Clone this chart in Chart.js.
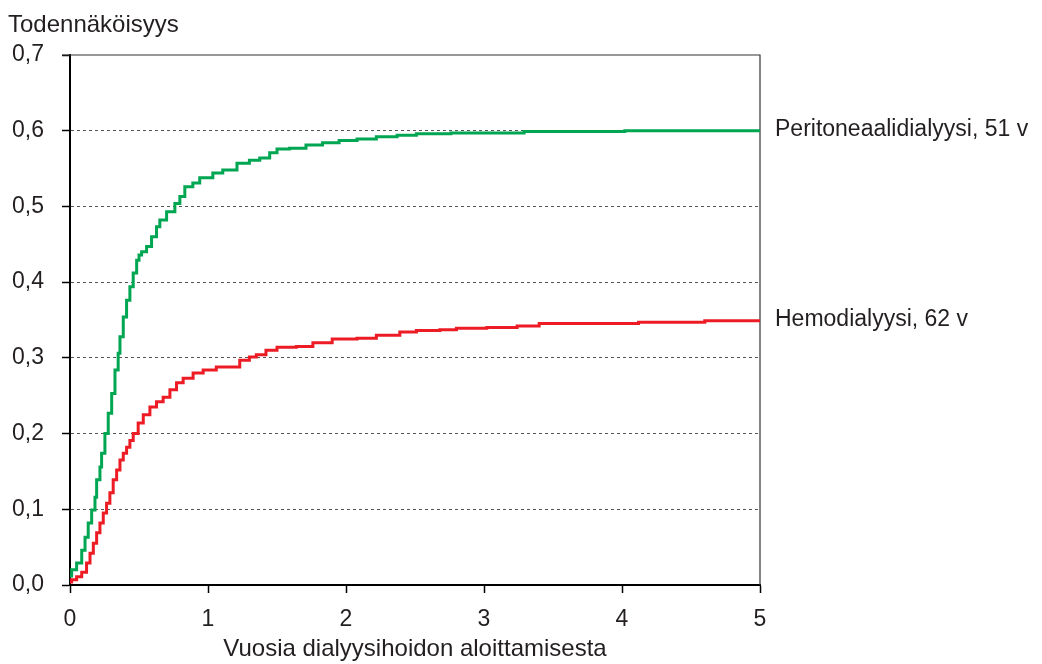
<!DOCTYPE html>
<html lang="fi">
<head>
<meta charset="utf-8">
<title>Todennäköisyys</title>
<script src="https://cdn.jsdelivr.net/npm/chart.js@4/dist/chart.umd.min.js"></script>
<style>
  html, body { margin: 0; padding: 0; background: #fff; }
  canvas { display: block; }
</style>
</head>
<body>
<canvas id="chart" width="1042" height="664"></canvas>
<script>
// ── Data ───────────────────────────────────────────────────────────────────
const xTicks = [0, 1, 2, 3, 4, 5];
const yTicks = [0, 0.1, 0.2, 0.3, 0.4, 0.5, 0.6, 0.7];

const pdLabel = 'Peritoneaalidialyysi, 51 v';
const pdYears = [0, 0.012, 0.048, 0.085, 0.109, 0.132, 0.157, 0.181, 0.193, 0.217, 0.229, 0.253, 0.277, 0.302,
  0.326, 0.349, 0.362, 0.386, 0.41, 0.434, 0.458, 0.483, 0.5, 0.519, 0.555, 0.591, 0.627, 0.651, 0.7, 0.76,
  0.796, 0.832, 0.89, 0.94, 1.035, 1.107, 1.21, 1.3, 1.375, 1.447, 1.5, 1.59, 1.71, 1.83, 1.95, 2.08, 2.22,
  2.37, 2.51, 2.76, 3.29, 4.02, 5];
const pdProb = [0.012, 0.02, 0.029, 0.046, 0.063, 0.082, 0.099, 0.116, 0.139, 0.156, 0.174, 0.2, 0.227, 0.253,
  0.284, 0.306, 0.328, 0.354, 0.376, 0.394, 0.412, 0.429, 0.436, 0.44, 0.447, 0.46, 0.473, 0.482, 0.493, 0.504,
  0.513, 0.526, 0.531, 0.538, 0.544, 0.548, 0.557, 0.561, 0.564, 0.571, 0.576, 0.577, 0.581, 0.584, 0.587, 0.589,
  0.592, 0.594, 0.596, 0.597, 0.599, 0.6, 0.6];

const hdLabel = 'Hemodialyysi, 62 v';
const hdYears = [0, 0.012, 0.048, 0.085, 0.12, 0.145, 0.169, 0.193, 0.217, 0.241, 0.265, 0.289, 0.313, 0.338,
  0.362, 0.386, 0.41, 0.434, 0.458, 0.494, 0.531, 0.579, 0.627, 0.675, 0.724, 0.772, 0.82, 0.892, 0.965, 1.06,
  1.23, 1.3, 1.35, 1.42, 1.5, 1.64, 1.76, 1.9, 2.08, 2.22, 2.39, 2.51, 2.68, 2.8, 3.02, 3.24, 3.4, 4.12, 4.6, 5];
const hdProb = [0.004, 0.007, 0.011, 0.017, 0.029, 0.042, 0.055, 0.069, 0.082, 0.095, 0.108, 0.122, 0.139, 0.152,
  0.165, 0.174, 0.182, 0.191, 0.2, 0.214, 0.225, 0.235, 0.242, 0.248, 0.258, 0.267, 0.273, 0.28, 0.284, 0.288,
  0.297, 0.301, 0.304, 0.31, 0.314, 0.315, 0.32, 0.325, 0.326, 0.33, 0.334, 0.336, 0.337, 0.339, 0.34, 0.342,
  0.3455, 0.347, 0.349, 0.349];

const GREEN = '#00a651';
const RED   = '#ed1c24';
const FONT  = 'Arial, "Liberation Sans", Helvetica, sans-serif';
const TEXT  = '#231f20';

const toPoints = (xs, ys) => xs.map((x, i) => ({ x, y: ys[i] }));

// ── Plugins: y title above axis, end labels, top/right frame lines ─────────
const decorations = {
  id: 'decorations',
  beforeDatasetsDraw(chart) {
    const { ctx, chartArea } = chart;
    ctx.save();
    ctx.strokeStyle = '#333';
    ctx.lineWidth = 1.2;
    ctx.beginPath();
    ctx.moveTo(chartArea.left - 8, chartArea.top);
    ctx.lineTo(chartArea.right, chartArea.top);
    ctx.lineTo(chartArea.right, chartArea.bottom);
    ctx.stroke();
    ctx.restore();
  },
  afterDraw(chart) {
    const { ctx, chartArea, scales } = chart;
    ctx.save();
    ctx.fillStyle = TEXT;
    ctx.font = '24px ' + FONT;
    ctx.textAlign = 'left';
    ctx.textBaseline = 'middle';
    ctx.fillText('Todennäköisyys', 8, 25);

    ctx.font = '23px ' + FONT;
    chart.data.datasets.forEach(ds => {
      const last = ds.data[ds.data.length - 1];
      ctx.fillText(ds.label, chartArea.right + 15, scales.y.getPixelForValue(last.y) - 1);
    });
    ctx.restore();
  }
};

new Chart(document.getElementById('chart'), {
  type: 'line',
  data: {
    datasets: [
      { label: pdLabel, data: toPoints(pdYears, pdProb), borderColor: GREEN },
      { label: hdLabel, data: toPoints(hdYears, hdProb), borderColor: RED },
    ]
  },
  options: {
    responsive: false,
    animation: false,
    devicePixelRatio: 1,
    layout: { padding: { top: 55, right: 282, left: 0, bottom: 0 } },
    elements: {
      line: { stepped: 'before', borderWidth: 3, fill: false, tension: 0 },
      point: { radius: 0 }
    },
    plugins: { legend: { display: false }, tooltip: { enabled: false } },
    scales: {
      x: {
        type: 'linear', min: 0, max: 5,
        afterBuildTicks: s => { s.ticks = xTicks.map(v => ({ value: v })); },
        afterFit: s => { s.height = 79; },
        ticks: { color: TEXT, font: { family: FONT, size: 23 }, padding: 13, maxRotation: 0 },
        grid: { drawOnChartArea: false, tickColor: '#000', tickLength: 8, tickWidth: 1.5 },
        border: { color: '#000', width: 2 },
        title: {
          display: true, text: 'Vuosia dialyysihoidon aloittamisesta',
          color: TEXT, font: { family: FONT, size: 24 }, padding: { top: 0, bottom: 0 }
        }
      },
      y: {
        type: 'linear', min: 0, max: 0.7,
        afterBuildTicks: s => { s.ticks = yTicks.map(v => ({ value: v })); },
        afterFit: s => { s.width = 70; },
        ticks: {
          color: TEXT, font: { family: FONT, size: 23 }, padding: 18,
          callback: v => v.toFixed(1).replace('.', ',')
        },
        grid: {
          color: c => (c.tick && c.tick.value > 0.05 && c.tick.value < 0.65) ? '#555' : 'rgba(0,0,0,0)',
          lineWidth: 1, tickColor: '#000', tickLength: 8, tickWidth: 1.5
        },
        border: { color: '#000', width: 2, dash: [3, 3] }
      }
    }
  },
  plugins: [decorations]
});
</script>
</body>
</html>
